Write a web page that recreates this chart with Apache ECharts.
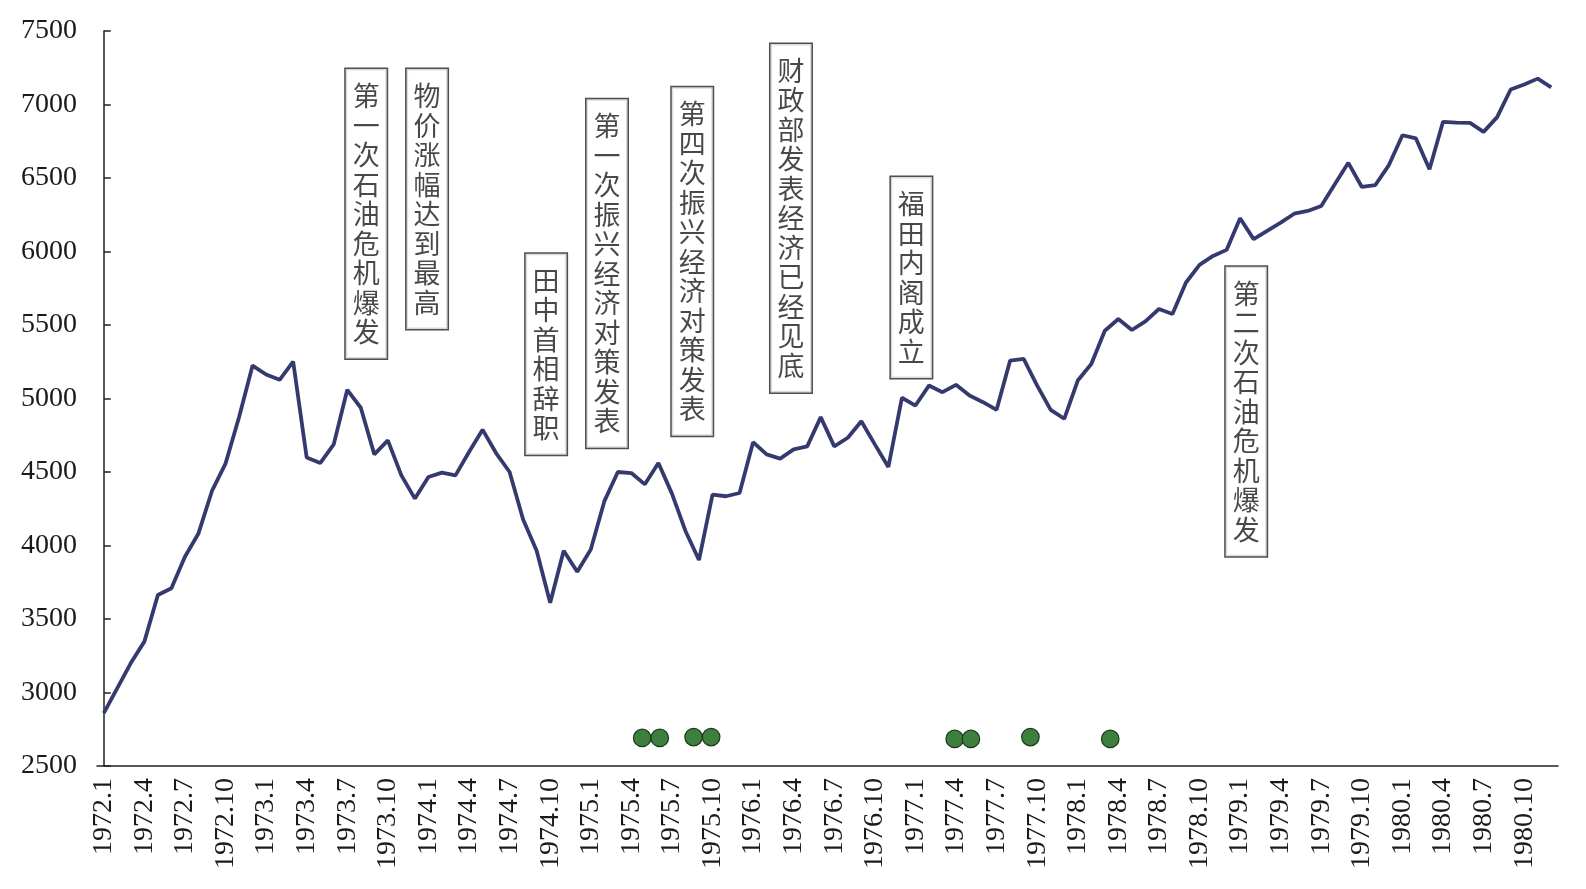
<!DOCTYPE html>
<html>
<head>
<meta charset="utf-8">
<title>1972-1980</title>
<script src="https://cdn.jsdelivr.net/npm/echarts@6/dist/echarts.min.js"></script>
<style>
  html, body { margin: 0; padding: 0; background: #fff; }
  #chart { width: 1586px; height: 889px; }
</style>
</head>
<body>
<div id="chart"></div>
<script>
// monthly categories 1972.1 - 1980.12
var months = [];
for (var y = 1972; y <= 1980; y++) {
  for (var m = 1; m <= 12; m++) {
    months.push(y + "." + m);
  }
}

// values, one per month
var indexValues = [
  2860, 3030, 3200, 3346, 3663, 3709, 3923, 4082, 4371, 4557, 4873, 5224,
  5163, 5127, 5251, 4598, 4561, 4688, 5059, 4937, 4620, 4715, 4477, 4319,
  4466, 4496, 4477, 4636, 4788, 4629, 4500, 4177, 3964, 3611, 3964, 3821,
  3973, 4300, 4500, 4493, 4416, 4561, 4353, 4099, 3901, 4346, 4335, 4357,
  4703, 4620, 4591, 4654, 4674, 4873, 4674, 4733, 4845, 4688, 4534, 5005,
  4952, 5088, 5043, 5093, 5020, 4975, 4923, 5258, 5269, 5088, 4923, 4862,
  5122, 5235, 5461, 5541, 5466, 5525, 5609, 5575, 5789, 5909, 5970, 6011,
  6226, 6084, 6140, 6196, 6257, 6276, 6310, 6457, 6603, 6439, 6452, 6588,
  6791, 6769, 6559, 6882, 6877, 6875, 6814, 6914, 7102, 7136, 7176, 7117
];

// green markers: month offset from 1972.1 and level
var dotMonths = [39.8, 41.1, 43.6, 44.9, 62.9, 64.1, 68.5, 74.4];
var dotLevels = [2691, 2691, 2697, 2697, 2684, 2684, 2697, 2684];

// event notes: text, month offset of box centre, value at box top
var noteTexts = [
  "第一次石油危机爆发",
  "物价涨幅达到最高",
  "田中首相辞职",
  "第一次振兴经济对策发表",
  "第四次振兴经济对策发表",
  "财政部发表经济已经见底",
  "福田内阁成立",
  "第二次石油危机爆发"
];
var noteMonths = [19.4, 23.9, 32.7, 37.2, 43.5, 50.8, 59.7, 84.45];
var noteTops = [7241, 7241, 5985, 7035, 7117, 7412, 6506, 5896];

var axisColor = "#222";
var serif = "Liberation Serif";

var myChart = echarts.init(document.getElementById("chart"));
myChart.setOption({
  animation: false,
  grid: { left: 97, right: 28, top: 31, bottom: 123 },
  xAxis: [
    {
      type: "category",
      data: months,
      boundaryGap: true,
      axisLine: { lineStyle: { color: axisColor, width: 1.5 } },
      axisTick: {
        inside: true,
        length: 7,
        interval: 2,
        lineStyle: { color: axisColor, width: 1.5 },
      },
      axisLabel: {
        interval: 2,
        rotate: 90,
        margin: 12,
        fontFamily: serif,
        fontSize: 28,
        color: "#1a1a1a",
      },
      splitLine: { show: false },
    },
    {
      // hidden helper axis for the dots and notes
      type: "value",
      min: -0.5,
      max: 107.5,
      show: false,
    },
  ],
  yAxis: {
    type: "value",
    min: 2500,
    max: 7500,
    interval: 500,
    axisLine: { show: true, lineStyle: { color: axisColor, width: 1.5 } },
    axisTick: {
      show: true,
      inside: true,
      length: 7,
      lineStyle: { color: axisColor, width: 1.5 },
    },
    axisLabel: {
      margin: 20,
      fontFamily: serif,
      fontSize: 28,
      color: "#1a1a1a",
      formatter: function (value) {
        return String(value);
      },
    },
    splitLine: { show: false },
  },
  series: [
    {
      type: "line",
      data: indexValues,
      xAxisIndex: 0,
      symbol: "none",
      lineStyle: { color: "#353a6e", width: 3.8 },
      z: 2,
    },
    {
      type: "scatter",
      xAxisIndex: 1,
      data: dotMonths.map(function (mm, i) {
        return [mm, dotLevels[i]];
      }),
      symbol: "circle",
      symbolSize: 17.5,
      itemStyle: {
        color: "#3d7f3d",
        borderColor: "#1e3a1e",
        borderWidth: 1.2,
        opacity: 1,
      },
      silent: true,
      z: 3,
    },
    {
      type: "scatter",
      xAxisIndex: 1,
      data: noteTexts.map(function (t, i) {
        return { name: t, value: [noteMonths[i], noteTops[i]] };
      }),
      symbolSize: 0,
      silent: true,
      label: {
        show: true,
        position: "bottom",
        distance: 0,
        formatter: function (p) {
          return p.name.split("").join("\n");
        },
        fontFamily: "Noto Sans CJK SC",
        fontSize: 27,
        lineHeight: 29.5,
        color: "#1a1a1a",
        backgroundColor: "#fff",
        borderColor: "#222",
        borderWidth: 1.5,
        padding: [12, 7],
      },
      z: 5,
    },
  ],
});
</script>
</body>
</html>
